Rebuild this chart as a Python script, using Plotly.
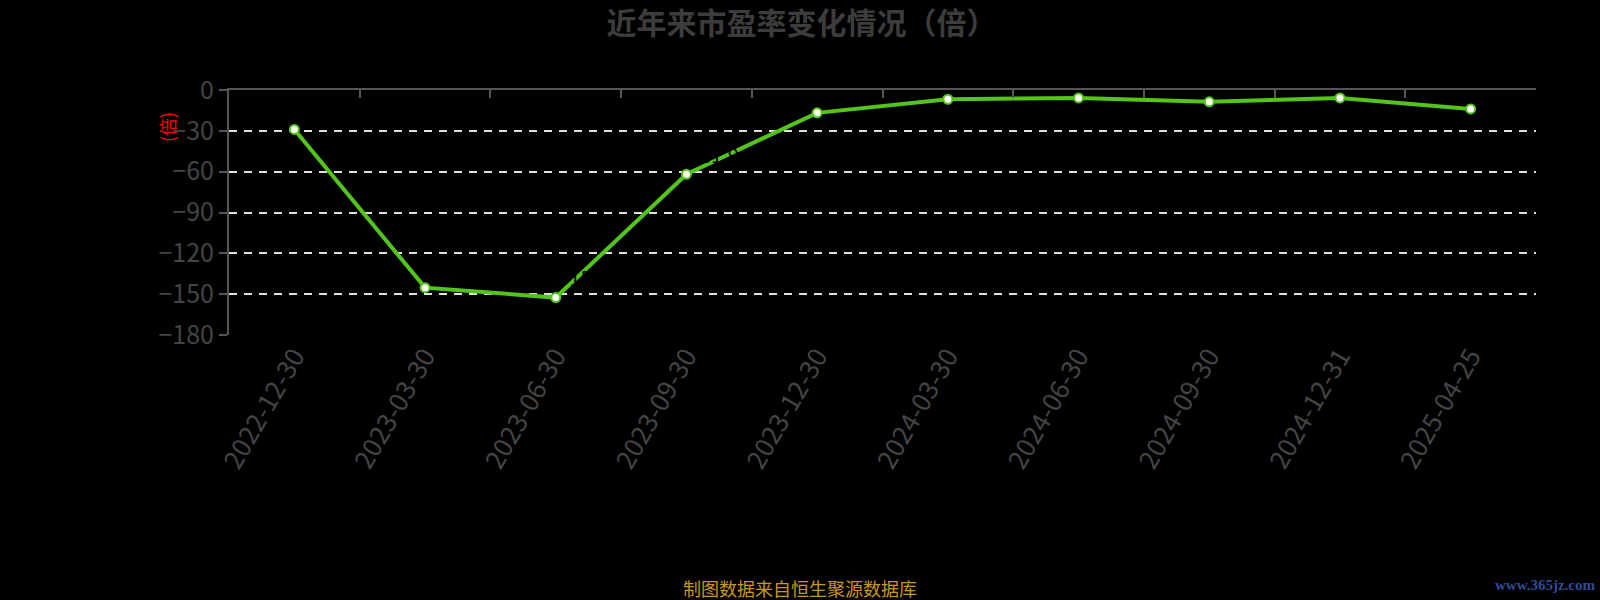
import plotly.graph_objects as go

categories = ["2022-12-30", "2023-03-30", "2023-06-30", "2023-09-30", "2023-12-30",
              "2024-03-30", "2024-06-30", "2024-09-30", "2024-12-31", "2025-04-25"]
pe_values = [-29.0, -145.2, -152.5, -61.9, -16.8, -6.8, -5.8, -8.7, -5.8, -13.9]
y_ticks = [0, -30, -60, -90, -120, -150, -180]

W, H = 1600, 600
ml, mr, mt, mb = 229, 64, 90, 265
pw, ph = W - ml - mr, H - mt - mb

def px_to_paper(x, y):
    return (x - ml) / pw, (H - mb - y) / ph

fig = go.Figure()

fig.add_trace(go.Scatter(
    x=categories, y=pe_values,
    mode="lines+markers+text",
    line=dict(color="#52c41a", width=4),
    marker=dict(size=9, color="white", line=dict(color="#52c41a", width=2)),
    text=[f"{v:.1f}" for v in pe_values],
    textposition="top right",
    textfont=dict(color="black", size=20, family="Noto Sans CJK SC"),
    cliponaxis=False,
    showlegend=False,
    hoverinfo="x+y",
))
# helper trace for top axis
fig.add_trace(go.Scatter(
    x=categories, y=[None] * len(categories), xaxis="x2",
    mode="lines", showlegend=False, hoverinfo="skip",
))

fig.update_layout(
    width=W, height=H,
    paper_bgcolor="black", plot_bgcolor="black",
    margin=dict(l=ml, r=mr, t=mt, b=mb),
    title=dict(
        text="<b>近年来市盈率变化情况（倍）</b>",
        font=dict(size=30, color="#3c3c3c", family="Noto Sans CJK SC"),
        x=0.501, xref="container", xanchor="center",
        y=1 - 23 / H, yref="container", yanchor="middle",
    ),
    xaxis=dict(
        type="category", categoryorder="array", categoryarray=categories,
        range=[-0.5, len(categories) - 0.5],
        tickangle=-60,
        tickfont=dict(size=26, color="#444444", family="Noto Sans CJK SC"),
        showline=False, showgrid=False, zeroline=False, ticks="",
    ),
    xaxis2=dict(
        type="category", categoryorder="array", categoryarray=categories,
        overlaying="x", side="top", matches="x",
        range=[-0.5, len(categories) - 0.5],
        showline=True, linecolor="#555555", linewidth=2,
        ticks="inside", tickson="boundaries", ticklen=8, tickcolor="#555555", tickwidth=2,
        showticklabels=False, showgrid=False, zeroline=False,
    ),
    yaxis=dict(
        range=[-180, 0], tickvals=y_ticks,
        tickfont=dict(size=25, color="#444444", family="Noto Sans CJK SC"),
        showline=True, linecolor="#555555", linewidth=2,
        ticks="outside", ticklen=8, tickcolor="#555555", tickwidth=2,
        showgrid=True, gridcolor="#e0e0e0", gridwidth=2, griddash="8px,7px",
        zeroline=False,
    ),
)

ax, ay = px_to_paper(152, 110)
fig.add_annotation(text="(倍)", x=ax, y=ay, xref="paper", yref="paper",
                   showarrow=False, textangle=-90,
                   font=dict(size=18, color="red", family="Noto Sans CJK SC"))

fx, fy = px_to_paper(800, 588)
fig.add_annotation(text="制图数据来自恒生聚源数据库", x=fx, y=fy, xref="paper", yref="paper",
                   showarrow=False, xanchor="center", yanchor="middle",
                   font=dict(size=18, color="#c8961e", family="Noto Sans CJK SC"))

wx, wy = px_to_paper(1597, 585)
fig.add_annotation(text="<b>www.365jz.com</b>", x=wx, y=wy, xref="paper", yref="paper",
                   showarrow=False, xanchor="right", yanchor="middle",
                   font=dict(size=15, color="#2b4c94", family="Liberation Serif"))

fig.write_html("out.html",
               config={"displayModeBar": False},
               post_script="document.body.style.margin='0';document.body.style.background='black';")
